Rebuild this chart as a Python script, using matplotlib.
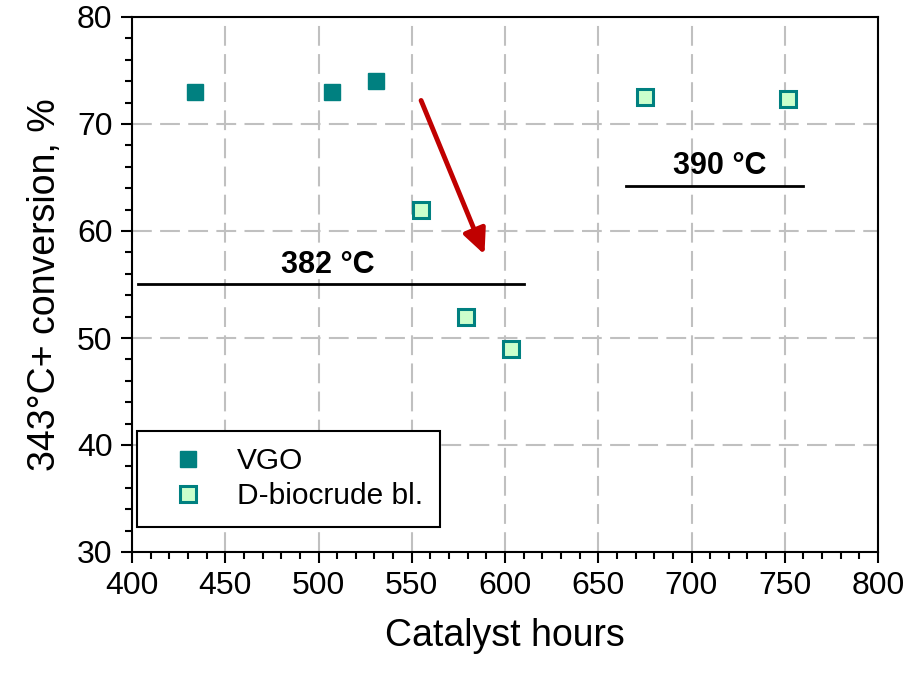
import matplotlib.pyplot as plt
from matplotlib.ticker import MultipleLocator

plt.rcParams['font.family'] = ['Liberation Sans', 'DejaVu Sans']

vgo_hours = [434, 507, 531]
vgo_conv = [73, 73, 74]
bio_hours = [555, 579, 603, 675, 752]
bio_conv = [62, 52, 49, 72.5, 72.3]

fig = plt.figure(figsize=(9.09, 6.77), dpi=100)
ax = fig.add_axes([132 / 909, 1 - 552 / 677, (878 - 132) / 909, (552 - 17) / 677])

ax.grid(True, which='major', color='#c0c0c0', linestyle=(0, (9.5, 4)), linewidth=1.5)
ax.set_axisbelow(True)

ax.plot(vgo_hours, vgo_conv, 's', ms=12, color='#008080', mec='#008080', label='VGO')
ax.plot(bio_hours, bio_conv, 's', ms=11, color='#ccffcc', mec='#008080', mew=2.2,
        label='D-biocrude bl.')

# temperature bars
ax.plot([403, 610], [55, 55], color='black', lw=2)
ax.text(505, 55.4, '382 °C', fontsize=22, fontweight='bold', ha='center', va='bottom')
ax.plot([665, 760], [64.2, 64.2], color='black', lw=2)
ax.text(715, 64.7, '390 °C', fontsize=22, fontweight='bold', ha='center', va='bottom')

ax.annotate('', xy=(589, 57.8), xytext=(555, 72.2),
            arrowprops=dict(arrowstyle='-|>,head_length=1.5,head_width=0.7',
                            color='#c00000', lw=3.5, shrinkA=0, shrinkB=0))

ax.set_xlim(400, 800)
ax.set_ylim(30, 80)
ax.xaxis.set_major_locator(MultipleLocator(50))
ax.xaxis.set_minor_locator(MultipleLocator(10))
ax.yaxis.set_major_locator(MultipleLocator(10))
ax.yaxis.set_minor_locator(MultipleLocator(2))
ax.tick_params(which='major', direction='out', length=8, width=1.5, labelsize=23, pad=6)
ax.tick_params(which='minor', direction='out', length=5, width=1.5)
ax.tick_params(top=False, right=False, which='both')
for s in ax.spines.values():
    s.set_linewidth(1.5)
    s.set_color('black')

ax.set_xlabel('Catalyst hours', fontsize=27, labelpad=12)
ax.set_ylabel('343°C+ conversion, %', fontsize=27, labelpad=10)

leg = ax.legend(loc='lower left', bbox_to_anchor=(0.0067, 0.047), borderaxespad=0,
                fontsize=21.5, fancybox=False, framealpha=1, edgecolor='black',
                borderpad=0.55, handlelength=2.3, handletextpad=0.5, labelspacing=0.25)
leg.get_frame().set_linewidth(1.5)

fig.savefig('out.png', dpi=100)
